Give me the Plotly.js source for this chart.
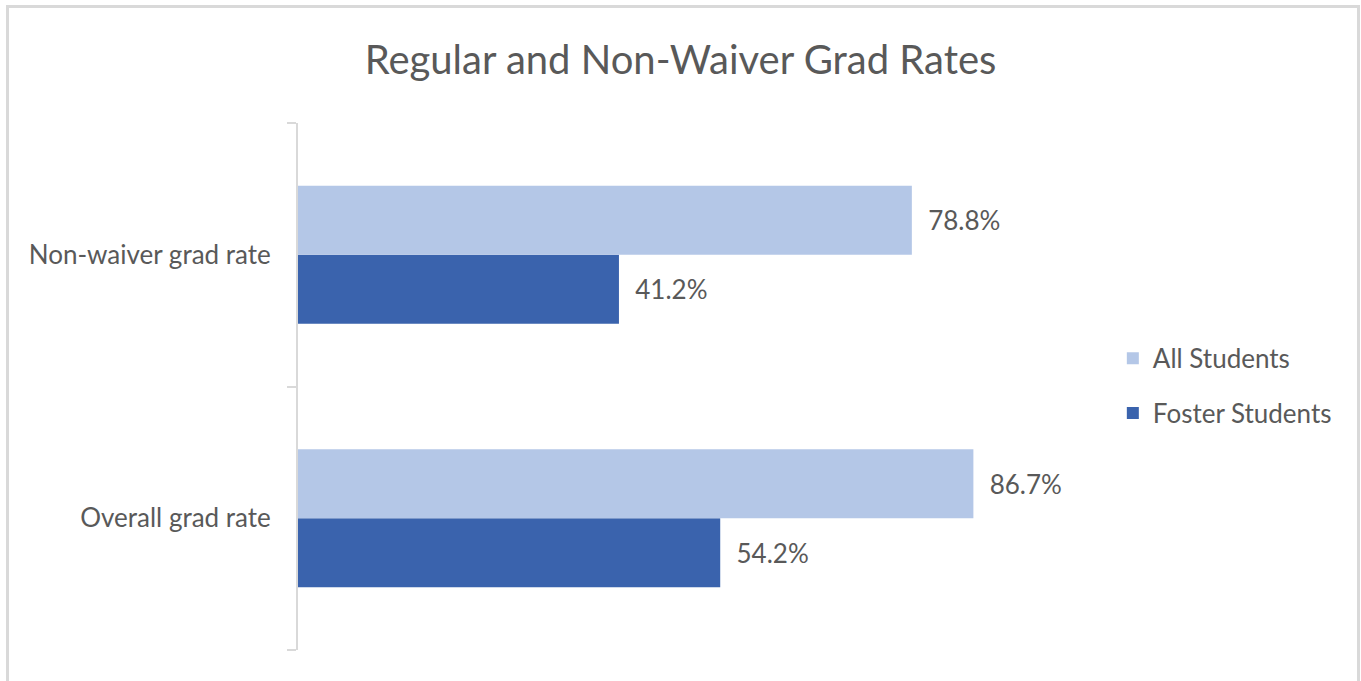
<!DOCTYPE html>
<html>
<head>
<meta charset="utf-8">
<script src="https://cdn.plot.ly/plotly-3.0.1.min.js"></script>
<style>
  html, body { margin: 0; padding: 0; background: #fff; overflow: hidden; }
  #chart { width: 1361px; height: 681px; }
  #frame {
    position: absolute; left: 6px; top: 5px; width: 1354px; height: 720px;
    box-sizing: border-box; border: 3px solid #d9d9d9; pointer-events: none;
  }
</style>
</head>
<body>
<div id="chart"></div>
<div id="frame"></div>
<script>
// categories bottom -> top
const categories = ['Overall grad rate', 'Non-waiver grad rate'];
const allStudents = [86.7, 78.8];
const fosterStudents = [54.2, 41.2];
const seriesNames = ['All Students', 'Foster Students'];
const seriesColors = ['#B4C7E7', '#3A63AD'];

const textGray = '#595959';
const fontFam = 'Lato, "Open Sans", sans-serif';

function barTrace(name, values, color, rank) {
    return {
        type: 'bar',
        orientation: 'h',
        name: name,
        legendgroup: name,
        legendrank: rank,
        y: categories,
        x: values,
        marker: { color: color },
        texttemplate: '\u00a0\u00a0%{x:.1f}%',
        textposition: 'outside',
        cliponaxis: false,
        textfont: { family: fontFam, size: 26, color: textGray },
        hoverinfo: 'x+name'
    };
}

// Foster first so it sits below All Students inside each group
const data = [
    barTrace(seriesNames[1], fosterStudents, seriesColors[1], 2),
    barTrace(seriesNames[0], allStudents, seriesColors[0], 1)
];

const layout = {
    width: 1361,
    height: 681,
    paper_bgcolor: '#fff',
    plot_bgcolor: '#fff',
    font: { family: fontFam, color: textGray },
    title: {
        text: 'Regular and Non-Waiver Grad Rates',
        font: { family: fontFam, size: 40, color: textGray },
        x: 0.5, xref: 'container', xanchor: 'center',
        y: 1 - 60 / 681, yref: 'container', yanchor: 'middle'
    },
    margin: { l: 298, r: 284, t: 123, b: 31 },
    barmode: 'group',
    bargap: 0.476,
    bargroupgap: 0,
    xaxis: { range: [0, 100], visible: false, showgrid: false, zeroline: false },
    yaxis: {
        type: 'category',
        categoryorder: 'array',
        categoryarray: categories,
        range: [-0.5, 1.5],
        showline: true, linecolor: '#d9d9d9', linewidth: 2,
        ticks: 'outside', tickson: 'boundaries', ticklen: 9, tickwidth: 2, tickcolor: '#d9d9d9',
        ticklabelstandoff: 20,
        showgrid: false, zeroline: false,
        tickfont: { family: fontFam, size: 26, color: textGray }
    },
    showlegend: true,
    legend: {
        x: 1.046, xanchor: 'left',
        y: 0.598, yanchor: 'top',
        traceorder: 'grouped',
        tracegroupgap: 18,
        font: { family: fontFam, size: 26, color: textGray },
        bgcolor: 'rgba(0,0,0,0)'
    }
};

Plotly.newPlot('chart', data, layout, { displayModeBar: false, staticPlot: true });
</script>
</body>
</html>
